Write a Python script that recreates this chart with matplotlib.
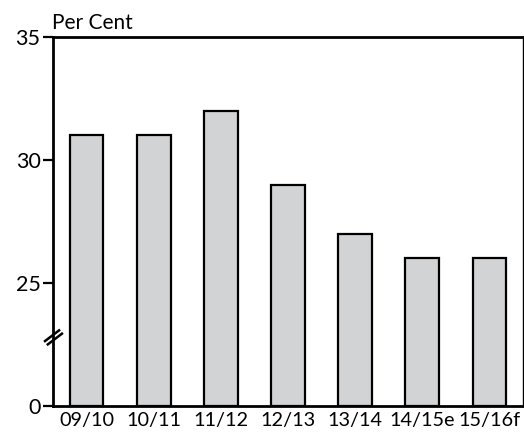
import matplotlib
matplotlib.use("Agg")
from matplotlib import pyplot as plt

years = ["09/10", "10/11", "11/12", "12/13", "13/14", "14/15e", "15/16f"]
per_cent = [31, 31, 32, 29, 27, 26, 26]

# axis is broken: the bottom stretch stands in for 0..base
base = 20
y_ticks = [20, 25, 30, 35]
y_labels = ["0", "25", "30", "35"]

plt.rcParams['font.family'] = ['Lato', 'DejaVu Sans']


def main():
    fig = plt.figure(figsize=(5.24, 4.34), dpi=100)
    ax = fig.add_axes([53 / 524, 28 / 434, 470 / 524, 369 / 434])

    x = list(range(len(years)))
    heights = [v - base for v in per_cent]
    ax.bar(x, heights, bottom=base, width=0.5, color="#d2d3d5",
           edgecolor="black", linewidth=1.6, zorder=2)

    ax.set_xlim(-0.5, len(years) - 0.5)
    ax.set_ylim(base, 35)
    ax.set_xticks(x)
    ax.set_xticklabels(years, fontsize=14.3)
    ax.set_yticks(y_ticks)
    ax.set_yticklabels(y_labels, fontsize=15.5)
    ax.tick_params(axis="x", length=0, pad=4)
    ax.tick_params(axis="y", length=7, width=1.6, pad=2)

    for side in ["left", "bottom", "top"]:
        ax.spines[side].set_linewidth(2)
    ax.spines["right"].set_linewidth(1)

    # break marks on the y axis
    for dx, dy in ((0.0, 0.0), (0.006, -0.009)):
        ax.plot([-0.017 + dx, 0.013 + dx], [0.176 + dy, 0.205 + dy],
                transform=ax.transAxes, color="black", linewidth=1.8,
                clip_on=False, zorder=5)

    ax.text(-0.002, 1.01, "Per Cent", transform=ax.transAxes, fontsize=15,
            ha="left", va="bottom")

    fig.savefig("out.png", dpi=100)


if __name__ == '__main__':
    main()
